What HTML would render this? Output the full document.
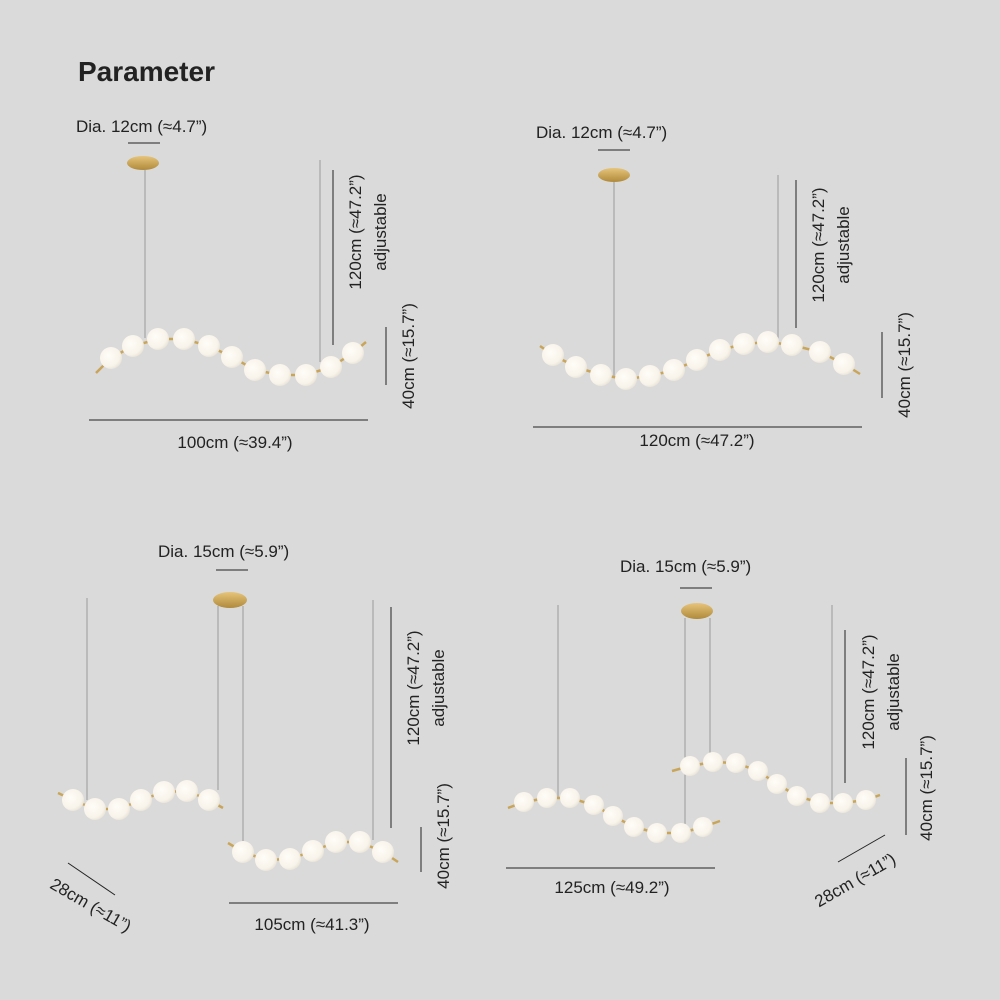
<!DOCTYPE html>
<html><head><meta charset="utf-8"><style>
html,body{margin:0;padding:0;background:#dadada}
svg{display:block}
text{font-family:"Liberation Sans",sans-serif;fill:#222;font-size:17px}
</style></head><body>
<svg width="1000" height="1000" viewBox="0 0 1000 1000">
<defs>
<radialGradient id="b" cx="0.4" cy="0.4" r="0.7"><stop offset="0" stop-color="#fffdf8"/><stop offset="0.7" stop-color="#f8f3ea"/><stop offset="1" stop-color="#e2dcd0"/></radialGradient>
<linearGradient id="g" x1="0" x2="0" y1="0" y2="1"><stop offset="0" stop-color="#e6c47a"/><stop offset="1" stop-color="#b08a3c"/></linearGradient>
</defs>
<rect width="1000" height="1000" fill="#dadada"/>
<text x="78" y="81" style="font-size:28px;font-weight:bold">Parameter</text>

<g stroke="#9a9a9a" stroke-width="1">
<line x1="145" y1="170" x2="145" y2="338"/><line x1="320" y1="160" x2="320" y2="362"/>
<line x1="614" y1="182" x2="614" y2="378"/><line x1="778" y1="175" x2="778" y2="340"/>
<line x1="87" y1="598" x2="87" y2="800"/><line x1="218" y1="606" x2="218" y2="790"/><line x1="243" y1="606" x2="243" y2="850"/><line x1="373" y1="600" x2="373" y2="840"/>
<line x1="558" y1="605" x2="558" y2="798"/><line x1="685" y1="618" x2="685" y2="830"/><line x1="710" y1="618" x2="710" y2="765"/><line x1="832" y1="605" x2="832" y2="800"/>
</g>
<g fill="url(#g)">
<ellipse cx="143" cy="163" rx="16" ry="7"/>
<ellipse cx="614" cy="175" rx="16" ry="7"/>
<ellipse cx="230" cy="600" rx="17" ry="8"/>
<ellipse cx="697" cy="611" rx="16" ry="8"/>
</g>
<g stroke="#c9a55a" stroke-width="2.5" fill="none">
<polyline points="96,373 111,358 133,346 158,339 184,339 209,346 232,357 255,370 280,375 306,375 331,367 353,353 366,342"/>
<polyline points="540,346 553,355 576,367 601,375 626,379 650,376 674,370 697,360 720,350 744,344 768,342 792,345 820,352 844,364 860,374"/>
<polyline points="58,793 73,800 95,809 119,809 141,800 164,792 187,791 209,800 223,808"/>
<polyline points="228,843 243,852 266,860 290,859 313,851 336,842 360,842 383,852 398,862"/>
<polyline points="508,808 524,802 547,798 570,798 594,805 613,816 634,827 657,833 681,833 703,827 720,821"/>
<polyline points="672,771 690,766 713,762 736,763 758,771 777,784 797,796 820,803 843,803 866,800 880,795"/>
</g>
<g fill="url(#b)">
<circle cx="111" cy="358" r="11"/><circle cx="133" cy="346" r="11"/><circle cx="158" cy="339" r="11"/><circle cx="184" cy="339" r="11"/><circle cx="209" cy="346" r="11"/><circle cx="232" cy="357" r="11"/><circle cx="255" cy="370" r="11"/><circle cx="280" cy="375" r="11"/><circle cx="306" cy="375" r="11"/><circle cx="331" cy="367" r="11"/><circle cx="353" cy="353" r="11"/>
<circle cx="553" cy="355" r="11"/><circle cx="576" cy="367" r="11"/><circle cx="601" cy="375" r="11"/><circle cx="626" cy="379" r="11"/><circle cx="650" cy="376" r="11"/><circle cx="674" cy="370" r="11"/><circle cx="697" cy="360" r="11"/><circle cx="720" cy="350" r="11"/><circle cx="744" cy="344" r="11"/><circle cx="768" cy="342" r="11"/><circle cx="792" cy="345" r="11"/><circle cx="820" cy="352" r="11"/><circle cx="844" cy="364" r="11"/>
<circle cx="73" cy="800" r="11"/><circle cx="95" cy="809" r="11"/><circle cx="119" cy="809" r="11"/><circle cx="141" cy="800" r="11"/><circle cx="164" cy="792" r="11"/><circle cx="187" cy="791" r="11"/><circle cx="209" cy="800" r="11"/>
<circle cx="243" cy="852" r="11"/><circle cx="266" cy="860" r="11"/><circle cx="290" cy="859" r="11"/><circle cx="313" cy="851" r="11"/><circle cx="336" cy="842" r="11"/><circle cx="360" cy="842" r="11"/><circle cx="383" cy="852" r="11"/>
<circle cx="524" cy="802" r="10"/><circle cx="547" cy="798" r="10"/><circle cx="570" cy="798" r="10"/><circle cx="594" cy="805" r="10"/><circle cx="613" cy="816" r="10"/><circle cx="634" cy="827" r="10"/><circle cx="657" cy="833" r="10"/><circle cx="681" cy="833" r="10"/><circle cx="703" cy="827" r="10"/>
<circle cx="690" cy="766" r="10"/><circle cx="713" cy="762" r="10"/><circle cx="736" cy="763" r="10"/><circle cx="758" cy="771" r="10"/><circle cx="777" cy="784" r="10"/><circle cx="797" cy="796" r="10"/><circle cx="820" cy="803" r="10"/><circle cx="843" cy="803" r="10"/><circle cx="866" cy="800" r="10"/>
</g>
<g stroke="#222" stroke-width="1">
<line x1="128" y1="143" x2="160" y2="143"/><line x1="333" y1="170" x2="333" y2="345"/><line x1="386" y1="327" x2="386" y2="385"/><line x1="89" y1="420" x2="368" y2="420"/>
<line x1="598" y1="150" x2="630" y2="150"/><line x1="796" y1="180" x2="796" y2="328"/><line x1="882" y1="332" x2="882" y2="398"/><line x1="533" y1="427" x2="862" y2="427"/>
<line x1="216" y1="570" x2="248" y2="570"/><line x1="391" y1="607" x2="391" y2="828"/><line x1="421" y1="827" x2="421" y2="872"/><line x1="229" y1="903" x2="398" y2="903"/><line x1="68" y1="863" x2="115" y2="895"/>
<line x1="680" y1="588" x2="712" y2="588"/><line x1="845" y1="630" x2="845" y2="783"/><line x1="906" y1="758" x2="906" y2="835"/><line x1="506" y1="868" x2="715" y2="868"/><line x1="838" y1="862" x2="885" y2="835"/>
</g>
<text x="76" y="132">Dia. 12cm (≈4.7”)</text>
<text transform="translate(361,232) rotate(-90)" text-anchor="middle">120cm (≈47.2”)</text>
<text transform="translate(386,232) rotate(-90)" text-anchor="middle">adjustable</text>
<text transform="translate(414,356) rotate(-90)" text-anchor="middle">40cm (≈15.7”)</text>
<text x="235" y="448" text-anchor="middle">100cm (≈39.4”)</text>

<text x="536" y="138">Dia. 12cm (≈4.7”)</text>
<text transform="translate(824,245) rotate(-90)" text-anchor="middle">120cm (≈47.2”)</text>
<text transform="translate(849,245) rotate(-90)" text-anchor="middle">adjustable</text>
<text transform="translate(910,365) rotate(-90)" text-anchor="middle">40cm (≈15.7”)</text>
<text x="697" y="446" text-anchor="middle">120cm (≈47.2”)</text>

<text x="158" y="557">Dia. 15cm (≈5.9”)</text>
<text transform="translate(419,688) rotate(-90)" text-anchor="middle">120cm (≈47.2”)</text>
<text transform="translate(444,688) rotate(-90)" text-anchor="middle">adjustable</text>
<text transform="translate(449,836) rotate(-90)" text-anchor="middle">40cm (≈15.7”)</text>
<text x="312" y="930" text-anchor="middle">105cm (≈41.3”)</text>
<text transform="translate(88,910) rotate(30)" text-anchor="middle">28cm (≈11”)</text>

<text x="620" y="572">Dia. 15cm (≈5.9”)</text>
<text transform="translate(874,692) rotate(-90)" text-anchor="middle">120cm (≈47.2”)</text>
<text transform="translate(899,692) rotate(-90)" text-anchor="middle">adjustable</text>
<text transform="translate(932,788) rotate(-90)" text-anchor="middle">40cm (≈15.7”)</text>
<text x="612" y="893" text-anchor="middle">125cm (≈49.2”)</text>
<text transform="translate(858,885) rotate(-30)" text-anchor="middle">28cm (≈11”)</text>
</svg>
</body></html>
